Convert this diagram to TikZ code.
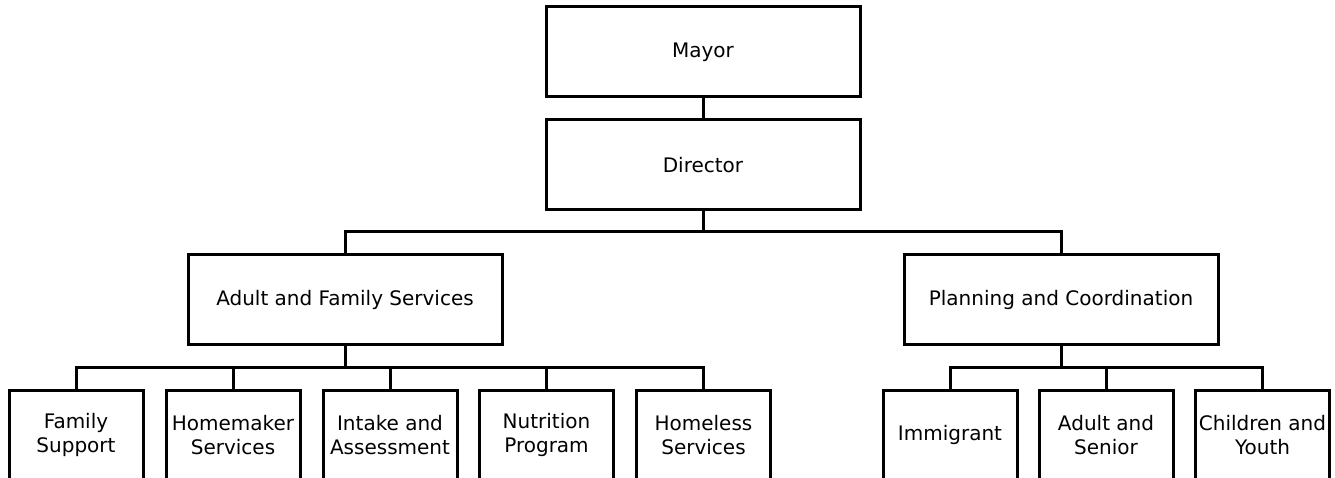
\documentclass[tikz,border=0pt]{standalone}
\usepackage{fontspec}
\setmainfont{DejaVu Sans}
\usetikzlibrary{positioning}

\tikzset{
    unit/.style={draw, line width=3pt, minimum width=314pt, minimum height=90pt, align=center, font=\fontsize{20}{24}\selectfont},
    subunit/.style={unit, minimum width=134pt, inner sep=0pt},
    link/.style={line width=3pt}
}

\begin{document}
\begin{tikzpicture}[x=1pt, y=-1pt]
        \useasboundingbox (0,0) rectangle (1335,478);
        % Top of the tree
        \node[unit] (mayor) at (703,52) {Mayor};
        \node[unit] (director) at (703,165) {Director};
        % Divisions
        \node[unit] (afs) at (345,299.5) {Adult and Family Services};
        \node[unit] (plan) at (1061,299.5) {Planning and Coordination};
        % Sections under Adult and Family Services
        \node[subunit] (family) at (76,435) {Family\\Support};
        \node[subunit] (homemaker) at (233,435) {Homemaker\\Services};
        \node[subunit] (intake) at (390,435) {Intake and\\Assessment};
        \node[subunit] (nutrition) at (546.5,435) {Nutrition\\Program};
        \node[subunit] (homeless) at (703.5,435) {Homeless\\Services};
        % Sections under Planning and Coordination
        \node[subunit] (immigrant) at (950,435) {Immigrant};
        \node[subunit] (senior) at (1106,435) {Adult and\\Senior};
        \node[subunit] (youth) at (1262.5,435) {Children and\\Youth};
        % Bus lines
        \coordinate (topbus) at (703,232);
        \coordinate (afsbus) at (345,367);
        \coordinate (planbus) at (1061,367);
        % Lines
        \draw[link] (mayor) -- (director);
        \draw[link] (director.south) -- (topbus);
        \draw[link] (afs.north) |- (topbus) -| (plan.north);
        \draw[link] (afs.south) -- (afsbus);
        \foreach \n in {family, homemaker, intake, nutrition, homeless}
            \draw[link] (\n.north) |- (afsbus);
        \draw[link] (plan.south) -- (planbus);
        \foreach \n in {immigrant, senior, youth}
            \draw[link] (\n.north) |- (planbus);
    \end{tikzpicture}
\end{document}
